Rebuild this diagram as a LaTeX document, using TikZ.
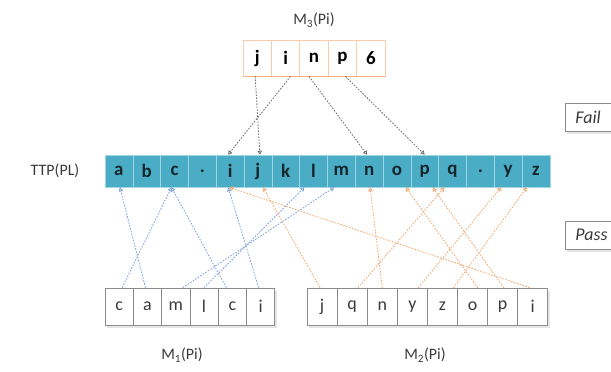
\documentclass[tikz,border=0pt]{standalone}
\usepackage{fontspec}
\setmainfont{Carlito}
\usetikzlibrary{arrows.meta}

\definecolor{barfill}{HTML}{4BACC6}
\definecolor{barline}{HTML}{9FD6E4}
\definecolor{barink}{HTML}{14262B}
\definecolor{topline}{HTML}{F8CBAD}
\definecolor{topedge}{HTML}{F4B183}
\definecolor{boxline}{HTML}{8C8C8C}
\definecolor{labelink}{HTML}{3A3A3A}
\definecolor{blueconn}{HTML}{7C9ED6}
\definecolor{orangeconn}{HTML}{F2A46A}
\definecolor{grayconn}{HTML}{6A6A6A}

\begin{document}
\begin{tikzpicture}[x=1bp,y=-1bp,
  barcell/.style={draw=barline, line width=0.6bp, minimum width=27.8bp, minimum height=32bp,
    inner sep=0pt, font=\fontsize{19}{19}\selectfont\bfseries, text=barink},
  topcell/.style={draw=topline, line width=0.8bp, fill=white, minimum width=28.4bp, minimum height=36bp,
    inner sep=0pt, font=\fontsize{19}{19}\selectfont\bfseries, text=black},
  lowcell/.style={draw=boxline, line width=0.8bp, fill=white, minimum height=37bp,
    inner sep=0pt, font=\fontsize{18}{18}\selectfont, text=labelink},
  tag/.style={font=\fontsize{16}{16}\selectfont, text=labelink},
  verdict/.style={draw=boxline, line width=0.8bp, fill=white, anchor=west, minimum height=28bp,
    minimum width=90bp, inner xsep=10bp, text width=70bp, align=left,
    font=\fontsize{18}{18}\selectfont\itshape, text=labelink},
  link/.style={line width=0.8bp, dash pattern=on 1.6bp off 1.4bp,
    -{Triangle[open, length=4bp, width=4.5bp]}},
  bluelink/.style={link, draw=blueconn},
  orangelink/.style={link, draw=orangeconn},
  graylink/.style={link, draw=grayconn}
]
\useasboundingbox (0,0) rectangle (611,371);
\clip (0,0) rectangle (611,371);

% ---- labels ----
\node[tag] (m3lab) at (314,20) {M\textsubscript{3}(Pi)};
\node[tag] (ttplab) at (55,171) {TTP(PL)};
\node[tag] (m1lab) at (182,355) {M\textsubscript{1}(Pi)};
\node[tag] (m2lab) at (425,355) {M\textsubscript{2}(Pi)};

% ---- TTP(PL) bar ----
\fill[barfill] (105,155) rectangle (550,187);
\foreach \ch [count=\k] in {a,b,c,.,i,j,k,l,m,n,o,p,q,.,y,z}
  \node[barcell] (t\k) at ({105+27.8*(\k-0.5)},171) {\ch};

% ---- M3(Pi) ----
\foreach \ch [count=\k] in {j,i,n,p,6}
  \node[topcell] (u\k) at ({243+28.4*(\k-0.5)},58) {\ch};
\draw[topedge, line width=1.6bp] (u1.south west) -- (u5.south east);

% ---- M1(Pi) and M2(Pi) with soft shadows ----
\fill[black!10] (107,291) rectangle (277,328);
\fill[black!10] (309,291) rectangle (550,328);
\foreach \ch [count=\k] in {c,a,m,l,c,i}
  \node[lowcell, minimum width=28.3bp] (a\k) at ({105+28.3*(\k-0.5)},306.5) {\ch};
\foreach \ch [count=\k] in {j,q,n,y,z,o,p,i}
  \node[lowcell, minimum width=30.1bp] (b\k) at ({307+30.1*(\k-0.5)},306.5) {\ch};

% ---- verdict boxes at the right edge ----
\fill[black!10] (567,106) rectangle (660,134);
\node[verdict] (fail) at (565,117) {Fail};
\fill[black!10] (567,224) rectangle (660,252);
\node[verdict] (pass) at (565,235) {Pass};

% ---- M3 -> TTP ----
\draw[graylink] ([xshift=-2bp]u1.south) -- ([xshift=2bp]t6.north);
\draw[graylink] ([xshift=5bp]u2.south) -- ([xshift=-2bp]t5.north);
\draw[graylink] ([xshift=-5bp]u3.south) -- ([xshift=-2bp]t10.north);
\draw[graylink] ([xshift=3bp]u4.south) -- (t12.north);

% ---- M1 -> TTP ----
\draw[bluelink] ([xshift=3bp]a1.north) -- ([xshift=-3bp]t3.south);
\draw[bluelink] ([xshift=-2bp]a2.north) -- ([xshift=1bp]t1.south);
\draw[bluelink] ([xshift=7bp]a3.north) -- ([xshift=-7bp]t9.south);
\draw[bluelink] (a4.north) -- ([xshift=-9bp]t8.south);
\draw[bluelink] ([xshift=-6bp]a5.north) -- ([xshift=-3bp]t3.south);
\draw[bluelink] ([xshift=-2bp]a6.north) -- ([xshift=-2bp]t5.south);

% ---- M2 -> TTP ----
\draw[orangelink] ([xshift=-2bp]b1.north) -- ([xshift=5bp]t6.south);
\draw[orangelink] ([xshift=6bp]b2.north) -- ([xshift=-8bp]t13.south);
\draw[orangelink] (b3.north) -- ([xshift=1bp]t10.south);
\draw[orangelink] ([xshift=6bp]b4.north) -- ([xshift=-7bp]t15.south);
\draw[orangelink] ([xshift=11bp]b5.north) -- ([xshift=-9bp]t16.south);
\draw[orangelink] ([xshift=5bp]b6.north) -- ([xshift=9bp]t11.south);
\draw[orangelink] ([xshift=1bp]b7.north) -- ([xshift=8bp]t12.south);
\draw[orangelink] ([xshift=-3bp]b8.north) -- ([xshift=-1bp]t5.south);
\end{tikzpicture}
\end{document}
